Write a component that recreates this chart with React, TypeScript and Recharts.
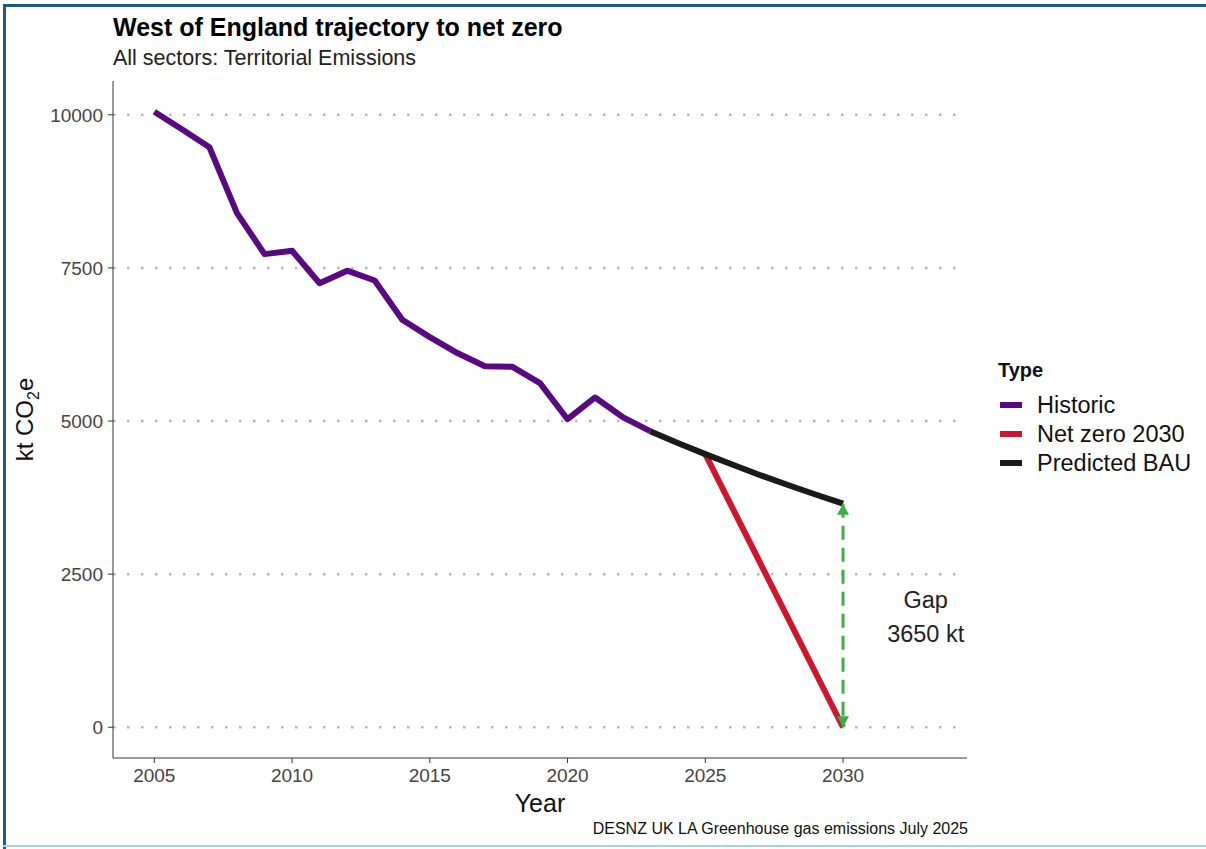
import React from 'react'
import { LineChart, Line, XAxis, YAxis, CartesianGrid, ReferenceDot, Label } from 'recharts'

// Historic territorial emissions (kt CO2e)
const historicYears = [2005, 2006, 2007, 2008, 2009, 2010, 2011, 2012, 2013, 2014, 2015, 2016, 2017, 2018, 2019, 2020, 2021, 2022, 2023]
const historicValues = [10050, 9765, 9470, 8395, 7725, 7780, 7250, 7455, 7295, 6655, 6370, 6110, 5895, 5885, 5620, 5030, 5385, 5065, 4835]

// Business-as-usual projection
const bauYears = [2023, 2024, 2025, 2026, 2027, 2028, 2029, 2030]
const bauValues = [4835, 4640, 4460, 4285, 4115, 3955, 3800, 3650]

// Net zero 2030 pathway
const netZeroYears = [2025, 2030]
const netZeroValues = [4460, 0]

// Gap arrow (2030 BAU down to net zero)
const gapYears = [2030, 2030]
const gapValues = [3650, 0]
const gapEnds = ['top', 'bottom']

const xTicks = [2005, 2010, 2015, 2020, 2025, 2030]
const yTicks = [0, 2500, 5000, 7500, 10000]

const legendNames = ['Historic', 'Net zero 2030', 'Predicted BAU']
const legendColors = ['#5a0a80', '#d0162f', '#1a1a1a']

const historic = historicYears.map((year, i) => ({ year, value: historicValues[i] }))
const bau = bauYears.map((year, i) => ({ year, value: bauValues[i] }))
const netZero = netZeroYears.map((year, i) => ({ year, value: netZeroValues[i] }))
const gap = gapYears.map((year, i) => ({ year, value: gapValues[i], end: gapEnds[i] }))

const gapSize = gapValues[0] - gapValues[1]
const FONT = '"Liberation Sans", Arial, Helvetica, sans-serif'

const ArrowHead = (props: any) => {
  const { cx, cy, payload, index } = props
  if (cx == null || cy == null) return <g key={`a-${index}`} />
  const up = payload.end === 'top'
  const d = up
    ? `M${cx},${cy} L${cx - 6},${cy + 11} L${cx + 6},${cy + 11} Z`
    : `M${cx},${cy} L${cx - 6},${cy - 11} L${cx + 6},${cy - 11} Z`
  return <path key={`a-${index}`} d={d} fill="#3fae49" />
}

const GapText = (props: any) => {
  const { cx, cy } = props
  return (
    <text x={cx} y={cy} textAnchor="middle" fontFamily={FONT} fontSize={23.5} fill="#222">
      <tspan x={cx} dy={-7}>Gap</tspan>
      <tspan x={cx} dy={34}>{`${gapSize} kt`}</tspan>
    </text>
  )
}

const YLabel = (props: any) => {
  const { viewBox } = props
  const cy = viewBox.y + viewBox.height / 2
  const x = 33
  return (
    <text transform={`rotate(-90 ${x} ${cy})`} x={x} y={cy} textAnchor="middle" fontFamily={FONT} fontSize={24} fill="#111">
      kt CO<tspan fontSize={16} dy={6}>2</tspan><tspan dy={-6}>e</tspan>
    </text>
  )
}

const App = () => {
  return (
    <div style={{ position: 'fixed', left: 0, top: 0, width: 1206, height: 849, background: '#fff', fontFamily: FONT }}>
      {/* frame */}
      <div style={{ position: 'absolute', left: 3, top: 4, width: 1203, height: 3, background: '#1e5c7c' }} />
      <div style={{ position: 'absolute', left: 3, top: 4, width: 3, height: 845, background: '#1e5c7c' }} />
      <div style={{ position: 'absolute', left: 3, top: 845, width: 1203, height: 2, background: '#a9cfe0' }} />

      <div style={{ position: 'absolute', left: 113, top: 13, fontSize: 25, fontWeight: 'bold', color: '#000', whiteSpace: 'nowrap' }}>
        West of England trajectory to net zero
      </div>
      <div style={{ position: 'absolute', left: 113, top: 46, fontSize: 21.5, color: '#222', whiteSpace: 'nowrap' }}>
        All sectors: Territorial Emissions
      </div>

      <LineChart width={1206} height={849} margin={{ top: 81, right: 239, bottom: 61, left: 53 }} style={{ position: 'absolute', left: 0, top: 0 }}>
        <CartesianGrid vertical={false} horizontalValues={yTicks} stroke="#b8b8b8" strokeWidth={2.5} strokeDasharray="2.5 11.5" />
        <XAxis
          dataKey="year"
          type="number"
          domain={[2003.5, 2034.5]}
          ticks={xTicks}
          allowDuplicatedCategory={false}
          stroke="#333"
          tickSize={5}
          tickMargin={6}
          height={30}
          tick={{ fontFamily: FONT, fontSize: 19, fill: '#444' }}
        >
          <Label value="Year" position="insideBottom" offset={-24} style={{ fontFamily: FONT, fontSize: 25, fill: '#111' }} />
        </XAxis>
        <YAxis
          type="number"
          domain={[-502, 10552]}
          ticks={yTicks}
          width={60}
          stroke="#333"
          tickSize={5}
          tickMargin={5}
          tick={{ fontFamily: FONT, fontSize: 19, fill: '#444' }}
        >
          <Label content={<YLabel />} />
        </YAxis>

        <Line data={historic} dataKey="value" name="Historic" stroke={legendColors[0]} strokeWidth={6} dot={false} strokeLinejoin="round" isAnimationActive={false} />
        <Line data={netZero} dataKey="value" name="Net zero 2030" stroke={legendColors[1]} strokeWidth={6} dot={false} isAnimationActive={false} />
        <Line data={bau} dataKey="value" name="Predicted BAU" stroke={legendColors[2]} strokeWidth={6} dot={false} strokeLinejoin="round" isAnimationActive={false} />
        <Line data={gap} dataKey="value" stroke="#3fae49" strokeWidth={3} strokeDasharray="14 8" dot={<ArrowHead />} activeDot={false} legendType="none" isAnimationActive={false} />

        <ReferenceDot x={2033} y={gapSize / 2} r={0} shape={<GapText />} />
      </LineChart>

      {/* legend */}
      <div style={{ position: 'absolute', left: 998, top: 359, fontSize: 20, fontWeight: 'bold', color: '#111' }}>Type</div>
      {legendNames.map((name, i) => (
        <div key={name} style={{ position: 'absolute', left: 1000, top: 391 + i * 29, display: 'flex', alignItems: 'center', height: 28 }}>
          <div style={{ width: 22, height: 6, background: legendColors[i], marginRight: 15 }} />
          <span style={{ fontSize: 23.5, color: '#111', whiteSpace: 'nowrap' }}>{name}</span>
        </div>
      ))}

      <div style={{ position: 'absolute', right: 1206 - 968, top: 820, fontSize: 16, color: '#111', whiteSpace: 'nowrap' }}>
        DESNZ UK LA Greenhouse gas emissions July 2025
      </div>
    </div>
  )
}

export default App
